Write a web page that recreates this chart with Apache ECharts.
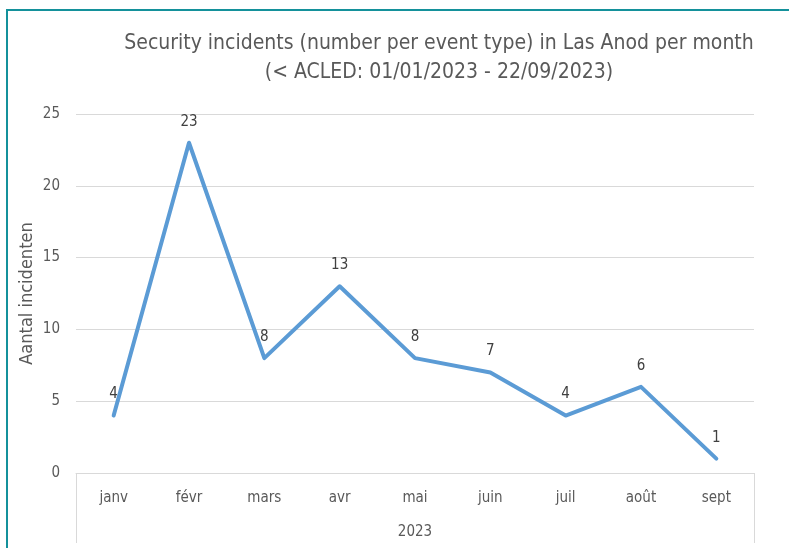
<!DOCTYPE html>
<html>
<head>
<meta charset="utf-8">
<title>Security incidents Las Anod</title>
<script src="https://cdn.jsdelivr.net/npm/echarts@6/dist/echarts.min.js"></script>
<style>
  html, body { margin: 0; padding: 0; background: #fff; }
  .frame {
    position: absolute;
    left: 6px;
    top: 9px;
    width: 783px;
    height: 539px;
    border-left: 2px solid #14919b;
    border-top: 2px solid #14919b;
  }
  #chart { position: absolute; left: 0; top: 0; width: 789px; height: 548px; }
</style>
</head>
<body>
<div class="frame"></div>
<div id="chart"></div>
<script>
// months (fr) and incidents per month
const months = ['janv', 'févr', 'mars', 'avr', 'mai', 'juin', 'juil', 'août', 'sept'];
const years = ['2023'];
const incidents = [4, 23, 8, 13, 8, 7, 4, 6, 1];
const yTicks = { min: 0, max: 25, interval: 5 };

const font = '"Liberation Sans Narrow", "DejaVu Sans Condensed", "Noto Sans", sans-serif';
const grey = '#595959';
const gridGrey = '#d9d9d9';

const myChart = echarts.init(document.getElementById('chart'), null, { renderer: 'canvas' });

const option = {
  backgroundColor: 'transparent',
  title: {
    text: 'Security incidents (number per event type) in Las Anod per month\n(< ACLED: 01/01/2023 - 22/09/2023)',
    left: 434,
    top: 24,
    textAlign: 'center',
    textStyle: {
      fontFamily: font,
      fontSize: 21,
      fontWeight: 'normal',
      color: grey,
      lineHeight: 29
    }
  },
  grid: { left: 76, right: 35, top: 114, bottom: 75 },
  xAxis: [
    {
      type: 'category',
      data: months,
      position: 'bottom',
      boundaryGap: true,
      axisLine: { show: true, lineStyle: { color: gridGrey, width: 1 } },
      axisTick: { show: false },
      axisLabel: { margin: 18, fontFamily: font, fontSize: 15, color: grey }
    },
    {
      type: 'category',
      data: years,
      position: 'bottom',
      boundaryGap: true,
      axisLine: { show: false },
      axisTick: { show: true, length: 70, lineStyle: { color: gridGrey, width: 1 } },
      axisLabel: { margin: 52, fontFamily: font, fontSize: 15, color: grey }
    }
  ],
  yAxis: {
    type: 'value',
    min: yTicks.min,
    max: yTicks.max,
    interval: yTicks.interval,
    name: 'Aantal incidenten',
    nameLocation: 'middle',
    nameGap: 40,
    nameMoveOverlap: false,
    nameRotate: 90,
    nameTextStyle: { fontFamily: font, fontSize: 18, color: grey },
    axisLine: { show: false },
    axisTick: { show: false },
    axisLabel: { margin: 16, fontFamily: font, fontSize: 15, color: grey },
    splitLine: { lineStyle: { color: gridGrey, width: 1 } }
  },
  series: [
    {
      name: 'incidents',
      type: 'line',
      xAxisIndex: 0,
      data: incidents,
      symbol: 'circle',
      symbolSize: 1,
      itemStyle: { color: '#5b9bd5' },
      lineStyle: { color: '#5b9bd5', width: 4, cap: 'round', join: 'round' },
      label: {
        show: true,
        position: 'top',
        distance: 13,
        fontFamily: font,
        fontSize: 15,
        color: '#404040'
      },
      emphasis: { disabled: true },
      animation: false
    }
  ]
};

option && myChart.setOption(option);
</script>
</body>
</html>
